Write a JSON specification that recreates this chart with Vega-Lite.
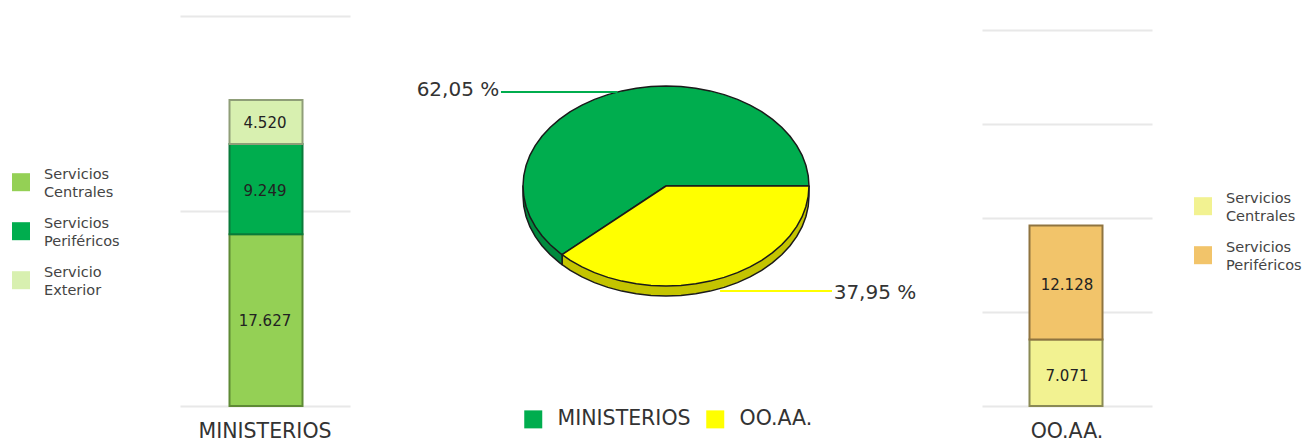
{
"$schema":"https://vega.github.io/schema/vega-lite/v6.json",
"background":"white",
"padding":{"left":12,"top":16,"right":0,"bottom":0},
"autosize":{"type":"pad"},
"spacing":20,
"config":{"view":{"stroke":null},"font":"DejaVu Sans","style":{"guide-label":{"lineHeight":18}}},
"resolve":{"scale":{"fill":"independent","stroke":"independent","color":"independent","x":"independent","y":"independent"},"legend":{"fill":"independent"}},
"hconcat":[
{"width":170,"height":390,
 "data":{"values":[
  {"grupo":"MINISTERIOS","serie":"Servicios Centrales","valor":17627,"rango":1,"medio":8700,"etiqueta":"17.627"},
  {"grupo":"MINISTERIOS","serie":"Servicios Periféricos","valor":9249,"rango":2,"medio":22100,"etiqueta":"9.249"},
  {"grupo":"MINISTERIOS","serie":"Servicio Exterior","valor":4520,"rango":3,"medio":29000,"etiqueta":"4.520"}]},
 "layer":[
  {"mark":{"type":"bar","size":73,"strokeWidth":2,"xOffset":1},
   "encoding":{
    "x":{"field":"grupo","type":"nominal","axis":{"title":null,"labelAngle":0,"labelFontSize":20.5,"labelColor":"#333333","labelPadding":15,"domain":false,"ticks":false}},
    "y":{"field":"valor","type":"quantitative","stack":"zero","scale":{"domain":[0,40000],"nice":false},"axis":{"title":null,"values":[0,20000,40000],"labels":false,"ticks":false,"domain":false,"grid":true,"gridColor":"#e8e8e8","gridWidth":2}},
    "order":{"field":"rango","type":"quantitative"},
    "fill":{"field":"serie","type":"nominal","scale":{"domain":["Servicios Centrales","Servicios Periféricos","Servicio Exterior"],"range":["#94d055","#00ad4e","#d8f0b0"]},
     "legend":{"title":null,"orient":"none","legendX":-168,"legendY":150,"symbolType":"M-1,-0.2H1V1.8H-1Z","symbolSize":324,"symbolStrokeWidth":0,"labelFontSize":14.5,"labelColor":"#444444","labelOffset":14,"rowPadding":15,"labelExpr":"split(datum.label,' ')"}},
    "stroke":{"field":"serie","type":"nominal","scale":{"domain":["Servicios Centrales","Servicios Periféricos","Servicio Exterior"],"range":["#5e8a35","#0a7a3a","#8f9e78"]},"legend":null}
   }},
  {"mark":{"type":"text","fontSize":15,"color":"#222222"},
   "encoding":{
    "x":{"field":"grupo","type":"nominal"},
    "y":{"field":"medio","type":"quantitative"},
    "text":{"field":"etiqueta","type":"nominal"}}}
 ]},
{"width":592,"height":390,
 "layer":[
  {"data":{"values":[
{"parte":"rimY","i":1,"px":1,"py":0},{"parte":"rimY","i":2,"px":1,"py":-0.1},{"parte":"rimY","i":3,"px":0.9945,"py":-0.2045},{"parte":"rimY","i":4,"px":0.9781,"py":-0.3079},{"parte":"rimY","i":5,"px":0.9511,"py":-0.409},{"parte":"rimY","i":6,"px":0.9135,"py":-0.5067},{"parte":"rimY","i":7,"px":0.866,"py":-0.6},{"parte":"rimY","i":8,"px":0.809,"py":-0.6878},{"parte":"rimY","i":9,"px":0.7431,"py":-0.7691},{"parte":"rimY","i":10,"px":0.6691,"py":-0.8431},{"parte":"rimY","i":11,"px":0.5878,"py":-0.909},{"parte":"rimY","i":12,"px":0.5,"py":-0.966},{"parte":"rimY","i":13,"px":0.4067,"py":-1.0135},{"parte":"rimY","i":14,"px":0.309,"py":-1.0511},{"parte":"rimY","i":15,"px":0.2079,"py":-1.0781},{"parte":"rimY","i":16,"px":0.1045,"py":-1.0945},{"parte":"rimY","i":17,"px":0,"py":-1.1},{"parte":"rimY","i":18,"px":-0.1045,"py":-1.0945},{"parte":"rimY","i":19,"px":-0.2079,"py":-1.0781},{"parte":"rimY","i":20,"px":-0.309,"py":-1.0511},{"parte":"rimY","i":21,"px":-0.4067,"py":-1.0135},{"parte":"rimY","i":22,"px":-0.5,"py":-0.966},{"parte":"rimY","i":23,"px":-0.5878,"py":-0.909},{"parte":"rimY","i":24,"px":-0.6691,"py":-0.8431},{"parte":"rimY","i":25,"px":-0.7266,"py":-0.7871},{"parte":"rimY","i":26,"px":-0.7266,"py":-0.6871},{"parte":"rimY","i":27,"px":1,"py":0},
{"parte":"rimG","i":1,"px":-0.7266,"py":-0.6871},{"parte":"rimG","i":2,"px":-0.7266,"py":-0.7871},{"parte":"rimG","i":3,"px":-0.7431,"py":-0.7691},{"parte":"rimG","i":4,"px":-0.809,"py":-0.6878},{"parte":"rimG","i":5,"px":-0.866,"py":-0.6},{"parte":"rimG","i":6,"px":-0.9135,"py":-0.5067},{"parte":"rimG","i":7,"px":-0.9511,"py":-0.409},{"parte":"rimG","i":8,"px":-0.9781,"py":-0.3079},{"parte":"rimG","i":9,"px":-0.9945,"py":-0.2045},{"parte":"rimG","i":10,"px":-1,"py":-0.1},{"parte":"rimG","i":11,"px":-1,"py":0},{"parte":"rimG","i":12,"px":-0.7266,"py":-0.6871},
{"parte":"MINISTERIOS","i":1,"px":0,"py":0},{"parte":"MINISTERIOS","i":2,"px":-0.7266,"py":-0.6871},{"parte":"MINISTERIOS","i":3,"px":-0.7431,"py":-0.6691},{"parte":"MINISTERIOS","i":4,"px":-0.809,"py":-0.5878},{"parte":"MINISTERIOS","i":5,"px":-0.866,"py":-0.5},{"parte":"MINISTERIOS","i":6,"px":-0.9135,"py":-0.4067},{"parte":"MINISTERIOS","i":7,"px":-0.9511,"py":-0.309},{"parte":"MINISTERIOS","i":8,"px":-0.9781,"py":-0.2079},{"parte":"MINISTERIOS","i":9,"px":-0.9945,"py":-0.1045},{"parte":"MINISTERIOS","i":10,"px":-1,"py":0},{"parte":"MINISTERIOS","i":11,"px":-0.9945,"py":0.1045},{"parte":"MINISTERIOS","i":12,"px":-0.9781,"py":0.2079},{"parte":"MINISTERIOS","i":13,"px":-0.9511,"py":0.309},{"parte":"MINISTERIOS","i":14,"px":-0.9135,"py":0.4067},{"parte":"MINISTERIOS","i":15,"px":-0.866,"py":0.5},{"parte":"MINISTERIOS","i":16,"px":-0.809,"py":0.5878},{"parte":"MINISTERIOS","i":17,"px":-0.7431,"py":0.6691},{"parte":"MINISTERIOS","i":18,"px":-0.6691,"py":0.7431},{"parte":"MINISTERIOS","i":19,"px":-0.5878,"py":0.809},{"parte":"MINISTERIOS","i":20,"px":-0.5,"py":0.866},{"parte":"MINISTERIOS","i":21,"px":-0.4067,"py":0.9135},{"parte":"MINISTERIOS","i":22,"px":-0.309,"py":0.9511},{"parte":"MINISTERIOS","i":23,"px":-0.2079,"py":0.9781},{"parte":"MINISTERIOS","i":24,"px":-0.1045,"py":0.9945},{"parte":"MINISTERIOS","i":25,"px":0,"py":1},{"parte":"MINISTERIOS","i":26,"px":0.1045,"py":0.9945},{"parte":"MINISTERIOS","i":27,"px":0.2079,"py":0.9781},{"parte":"MINISTERIOS","i":28,"px":0.309,"py":0.9511},{"parte":"MINISTERIOS","i":29,"px":0.4067,"py":0.9135},{"parte":"MINISTERIOS","i":30,"px":0.5,"py":0.866},{"parte":"MINISTERIOS","i":31,"px":0.5878,"py":0.809},{"parte":"MINISTERIOS","i":32,"px":0.6691,"py":0.7431},{"parte":"MINISTERIOS","i":33,"px":0.7431,"py":0.6691},{"parte":"MINISTERIOS","i":34,"px":0.809,"py":0.5878},{"parte":"MINISTERIOS","i":35,"px":0.866,"py":0.5},{"parte":"MINISTERIOS","i":36,"px":0.9135,"py":0.4067},{"parte":"MINISTERIOS","i":37,"px":0.9511,"py":0.309},{"parte":"MINISTERIOS","i":38,"px":0.9781,"py":0.2079},{"parte":"MINISTERIOS","i":39,"px":0.9945,"py":0.1045},{"parte":"MINISTERIOS","i":40,"px":1,"py":0},{"parte":"MINISTERIOS","i":41,"px":0,"py":0},
{"parte":"OO.AA.","i":1,"px":0,"py":0},{"parte":"OO.AA.","i":2,"px":1,"py":0},{"parte":"OO.AA.","i":3,"px":0.9945,"py":-0.1045},{"parte":"OO.AA.","i":4,"px":0.9781,"py":-0.2079},{"parte":"OO.AA.","i":5,"px":0.9511,"py":-0.309},{"parte":"OO.AA.","i":6,"px":0.9135,"py":-0.4067},{"parte":"OO.AA.","i":7,"px":0.866,"py":-0.5},{"parte":"OO.AA.","i":8,"px":0.809,"py":-0.5878},{"parte":"OO.AA.","i":9,"px":0.7431,"py":-0.6691},{"parte":"OO.AA.","i":10,"px":0.6691,"py":-0.7431},{"parte":"OO.AA.","i":11,"px":0.5878,"py":-0.809},{"parte":"OO.AA.","i":12,"px":0.5,"py":-0.866},{"parte":"OO.AA.","i":13,"px":0.4067,"py":-0.9135},{"parte":"OO.AA.","i":14,"px":0.309,"py":-0.9511},{"parte":"OO.AA.","i":15,"px":0.2079,"py":-0.9781},{"parte":"OO.AA.","i":16,"px":0.1045,"py":-0.9945},{"parte":"OO.AA.","i":17,"px":0,"py":-1},{"parte":"OO.AA.","i":18,"px":-0.1045,"py":-0.9945},{"parte":"OO.AA.","i":19,"px":-0.2079,"py":-0.9781},{"parte":"OO.AA.","i":20,"px":-0.309,"py":-0.9511},{"parte":"OO.AA.","i":21,"px":-0.4067,"py":-0.9135},{"parte":"OO.AA.","i":22,"px":-0.5,"py":-0.866},{"parte":"OO.AA.","i":23,"px":-0.5878,"py":-0.809},{"parte":"OO.AA.","i":24,"px":-0.6691,"py":-0.7431},{"parte":"OO.AA.","i":25,"px":-0.7266,"py":-0.6871},{"parte":"OO.AA.","i":26,"px":0,"py":0}
  ]},
  "mark":{"type":"line","stroke":"#1a1a1a","strokeWidth":1.5,"strokeJoin":"round"},
  "encoding":{
   "x":{"field":"px","type":"quantitative","scale":{"domain":[-2.07,2.07],"nice":false,"zero":false},"axis":null},
   "y":{"field":"py","type":"quantitative","scale":{"domain":[-2.2,1.7],"nice":false,"zero":false},"axis":null},
   "order":{"field":"i","type":"quantitative"},
   "fill":{"field":"parte","type":"nominal","scale":{"domain":["MINISTERIOS","OO.AA.","rimG","rimY"],"range":["#00ad4e","#ffff00","#008a3e","#c4c400"]},
    "legend":{"title":null,"values":["MINISTERIOS","OO.AA."],"orient":"none","direction":"horizontal","legendX":153,"legendY":393,"symbolType":"square","symbolSize":324,"symbolStrokeWidth":0,"labelFontSize":20.5,"labelColor":"#333333","labelOffset":14,"columnPadding":14}}
  }},
  {"data":{"values":[{"x0":-1.154,"x1":-0.34,"yv":0.94,"serie":"MINISTERIOS"},{"x0":0.378,"x1":1.161,"yv":-1.05,"serie":"OO.AA."}]},
   "mark":{"type":"rule","strokeWidth":2},
   "encoding":{
    "x":{"field":"x0","type":"quantitative"},
    "x2":{"field":"x1"},
    "y":{"field":"yv","type":"quantitative"},
    "color":{"field":"serie","type":"nominal","scale":{"domain":["MINISTERIOS","OO.AA."],"range":["#00ad4e","#ffff00"]},"legend":null}
   }},
  {"data":{"values":[{"tx":-1.455,"ty":0.96,"pct":"62,05 %"},{"tx":1.4615,"ty":-1.07,"pct":"37,95 %"}]},
   "mark":{"type":"text","fontSize":20,"color":"#333333"},
   "encoding":{
    "x":{"field":"tx","type":"quantitative"},
    "y":{"field":"ty","type":"quantitative"},
    "text":{"field":"pct","type":"nominal"}
   }}
 ],
 "resolve":{"scale":{"color":"independent"}}
},
{"width":170,"height":390,
 "data":{"values":[
  {"grupo":"OO.AA.","serie":"Servicios Centrales","valor":7071,"rango":1,"medio":3200,"etiqueta":"7.071"},
  {"grupo":"OO.AA.","serie":"Servicios Periféricos","valor":12128,"rango":2,"medio":12900,"etiqueta":"12.128"}]},
 "layer":[
  {"mark":{"type":"bar","size":73,"strokeWidth":2,"xOffset":-1},
   "encoding":{
    "x":{"field":"grupo","type":"nominal","axis":{"title":null,"labelAngle":0,"labelFontSize":20.5,"labelColor":"#333333","labelPadding":15,"domain":false,"ticks":false}},
    "y":{"field":"valor","type":"quantitative","stack":"zero","scale":{"domain":[0,41489],"nice":false},"axis":{"title":null,"values":[0,10000,20000,30000,40000],"labels":false,"ticks":false,"domain":false,"grid":true,"gridColor":"#e8e8e8","gridWidth":2}},
    "order":{"field":"rango","type":"quantitative"},
    "fill":{"field":"serie","type":"nominal","scale":{"domain":["Servicios Centrales","Servicios Periféricos"],"range":["#f2f291","#f2c46a"]},
     "legend":{"title":null,"orient":"none","legendX":212,"legendY":174,"symbolType":"M-1,-0.2H1V1.8H-1Z","symbolSize":324,"symbolStrokeWidth":0,"labelFontSize":14.5,"labelColor":"#444444","labelOffset":14,"rowPadding":15,"labelExpr":"split(datum.label,' ')"}},
    "stroke":{"field":"serie","type":"nominal","scale":{"domain":["Servicios Centrales","Servicios Periféricos"],"range":["#8a8a55","#8f7440"]},"legend":null}
   }},
  {"mark":{"type":"text","fontSize":15,"color":"#222222"},
   "encoding":{
    "x":{"field":"grupo","type":"nominal"},
    "y":{"field":"medio","type":"quantitative"},
    "text":{"field":"etiqueta","type":"nominal"}}}
 ]}
]
}
